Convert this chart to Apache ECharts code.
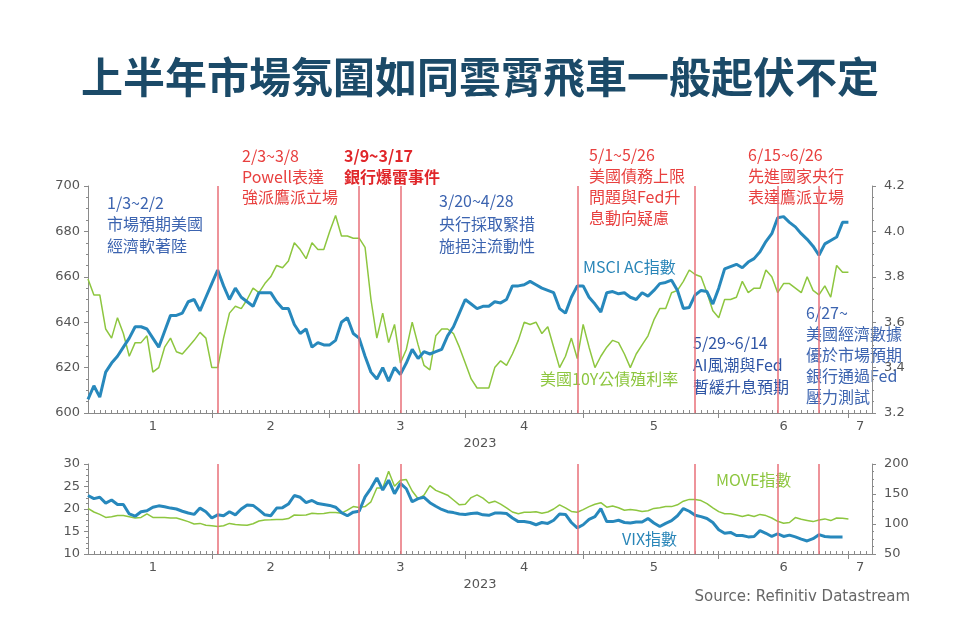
<!DOCTYPE html>
<html><head><meta charset="utf-8">
<script src="https://cdn.jsdelivr.net/npm/echarts@6/dist/echarts.min.js"></script>
<style>html,body{margin:0;padding:0;background:#fff}#c{width:960px;height:640px}</style>
</head><body><div id="c"></div>
<script>
// ---------------- data ----------------
const chartTitle = '上半年市場氛圍如同雲霄飛車一般起伏不定';
const monthLabels = ['1','2','3','4','5','6','7'];
const yearLabel = '2023';
const eventDates = ['2023-02-02','2023-03-08','2023-03-17','2023-04-28','2023-05-26','2023-06-15','2023-06-26'];

// business days 2023-01-03 .. 2023-07-03
const msci = [
  // Jan
  606,612,607,618,622,625,629,633,638,638,637,633,629,636,643,643,644,649,650,645,651,
  // Feb
  657,663,656,650,655,651,649,647,653,653,653,649,646,646,639,635,637,629,631,630,
  // Mar
  630,632,640,642,635,633,625,618,615,620,614,620,617,622,628,624,627,626,627,628,634,638,644,
  // Apr
  650,648,646,647,647,649,648.5,650,656,656,656.5,658,656.5,655,654,653,646,644,651,656,
  // May
  656,651,648,644.5,653,653.5,652.5,653,651,650,653,651.5,654,657,657.5,658.5,654,646,646.5,652,654,653.5,648,
  // Jun
  655,663.5,664.5,665.5,664,666.5,668,671,675.5,679,686,686.5,684,682,679,676.5,673.5,669.5,674.5,676,677.5,684,
  // Jul
  684
];
const yield10y = [
  3.79,3.72,3.72,3.57,3.53,3.62,3.55,3.45,3.51,3.51,3.54,3.38,3.40,3.49,3.53,3.47,3.46,3.49,3.52,3.555,3.53,
  3.40,3.40,3.53,3.64,3.67,3.66,3.70,3.75,3.73,3.77,3.80,3.85,3.84,3.87,3.95,3.92,3.88,3.95,3.92,3.92,
  4.00,4.07,3.98,3.98,3.97,3.97,3.93,3.70,3.53,3.64,3.51,3.59,3.42,3.48,3.60,3.50,3.41,3.39,3.54,3.57,3.57,3.55,3.49,
  3.42,3.35,3.31,3.31,3.31,3.40,3.43,3.41,3.46,3.52,3.60,3.59,3.60,3.55,3.58,3.49,3.40,3.45,3.53,3.44,
  3.59,3.49,3.40,3.45,3.49,3.52,3.51,3.46,3.40,3.46,3.50,3.54,3.61,3.66,3.66,3.73,3.74,3.78,3.83,3.81,3.80,3.73,3.65,
  3.62,3.70,3.70,3.71,3.78,3.73,3.75,3.75,3.83,3.80,3.73,3.77,3.77,3.75,3.73,3.80,3.74,3.72,3.76,3.71,3.85,3.82,
  3.82
];
const vix = [
  23.0,22.3,22.6,21.3,22.0,21.0,21.0,18.9,18.4,19.4,19.6,20.4,20.7,20.5,20.2,20.0,19.5,19.1,18.8,20.2,19.4,
  18.0,18.7,18.5,19.4,18.7,20.0,20.9,20.8,19.8,18.7,18.5,20.2,20.3,21.1,23.0,22.6,21.4,21.9,21.2,21.0,
  20.8,20.4,19.2,18.5,19.3,19.5,22.7,24.6,26.9,24.2,26.4,23.4,25.7,24.5,21.6,22.3,22.6,21.4,20.6,19.9,19.4,19.2,18.9,
  18.8,19.0,19.1,18.7,18.6,19.1,19.1,19.0,18.0,17.2,17.2,17.0,16.5,17.0,16.8,17.5,18.9,18.8,17.0,15.8,
  16.5,17.7,18.3,20.1,17.2,17.2,17.5,17.0,16.9,17.1,17.1,17.9,16.9,16.1,16.8,17.4,18.5,20.1,19.5,18.6,18.3,17.9,17.0,
  15.4,14.6,14.8,14.1,14.1,13.8,13.9,15.2,14.6,13.9,14.5,13.9,14.2,13.8,13.3,12.9,13.4,14.3,13.9,13.8,13.8,13.8
];
const move = [
  126,120,116,111,112,114,114,112,110,111,117,111,111,111,110,110,107,104,100,101,98,
  97,95.7,97,101,99,98.5,98,100.5,105,106.8,107,107.5,107.5,109,115,114.5,115,118,117,117.5,
  119,119,118,123,129,127.4,129,137,160,160,188,163,173,174,155,142,148,164,156,152,148,140,132,
  133,144,148.6,143,135,138,133,127,120,117,119.5,119.7,120.5,118,120,125,132,127,121,119.5,
  124,129,133,135.5,128,130,127,123,124,123,121,122,126,127,129,129,132,138,141,141,139,134,127,
  120.7,117,117,115,112.5,115,112.5,116,114,110,104.5,101.3,102.5,110.7,108,106,104,106.8,108.5,105.7,110,109.5,
  108.5
];

// ---------------- axis helpers ----------------
const dates = [];
(function(){
  const end = Date.UTC(2023,6,7);
  for (let t = Date.UTC(2023,0,3); t <= end; t += 86400000) {
    const d = new Date(t), w = d.getUTCDay();
    if (w !== 0 && w !== 6) dates.push(d.toISOString().slice(0,10));
  }
})();
const monthFirst = {};
dates.forEach((s,i)=>{ const m = +s.slice(5,7); if (!(m in monthFirst)) monthFirst[m] = i; });
const labelAt = {};
for (let m = 1; m <= 7; m++) {
  const a = monthFirst[m];
  const b = (m < 7) ? monthFirst[m+1] : dates.length - 1;
  labelAt[Math.round((a + b) / 2)] = monthLabels[m-1];
}
const monthStart = new Set(Object.values(monthFirst).filter(i => i > 0));

const AX = '#8a8a8a', LBL = '#555';
const numFont = 'DejaVu Sans';
const cjk = '"Noto Sans CJK TC","Noto Sans CJK SC",sans-serif';

function mainX(g){
  return {type:'category', gridIndex:g, data:dates, boundaryGap:false,
    axisLine:{show:true, lineStyle:{color:AX, width:1}},
    axisTick:{show:true, inside:true, length:3, interval:0, lineStyle:{color:AX}},
    axisLabel:{show:false}, splitLine:{show:false}};
}
function monthX(g){
  return {type:'category', gridIndex:g, data:dates, boundaryGap:false, position:'bottom',
    axisLine:{show:false},
    axisTick:{show:true, length:5, interval:(i)=>monthStart.has(i), lineStyle:{color:AX}},
    axisLabel:{show:true, interval:(i)=>(i in labelAt), formatter:(v,i)=>labelAt[i] || '',
      color:LBL, fontSize:13, margin:7, fontFamily:numFont},
    name:yearLabel, nameLocation:'middle', nameGap:24,
    nameTextStyle:{color:LBL, fontSize:13, fontFamily:numFont},
    splitLine:{show:false}};
}
function yAx(g, pos, min, max, interval, fmt){
  return {type:'value', gridIndex:g, position:pos, min, max, interval,
    axisLine:{show:true, lineStyle:{color:AX}},
    axisTick:{show:true, length:4, lineStyle:{color:AX}},
    minorTick:{show:true, splitNumber:4, length:2, lineStyle:{color:AX}},
    splitLine:{show:false},
    axisLabel:{color:LBL, fontSize:13, fontFamily:numFont, margin:pos==='left'?8:12,
      formatter: fmt || (v=>String(v))}};
}

const eventLine = {
  silent:true, symbol:['none','none'], animation:false,
  label:{show:false},
  lineStyle:{color:'#e86f78', width:1.5, type:'solid'},
  data: eventDates.map(d=>({xAxis:d}))
};

function txt(text, x, y, color, size, lh, weight){
  return {type:'text', left:x, top:y, silent:true,
    style:{text, fill:color, font:(weight||'normal')+' '+size+'px '+cjk, lineHeight:lh||size+5}};
}

const BLUE_T = '#3c64b0', RED_T = '#e8403f', LINE_BLUE = '#2788bc', LINE_GREEN = '#8dc63f';

const option = {
  backgroundColor:'#ffffff',
  animation:false,
  grid:[
    {left:88, width:784, top:186, height:227},
    {left:88, width:784, top:464, height:90}
  ],
  xAxis:[mainX(0), monthX(0), mainX(1), monthX(1)],
  yAxis:[
    yAx(0,'left',600,700,20),
    yAx(0,'right',3.2,4.2,0.2, v=>v.toFixed(1)),
    yAx(1,'left',10,30,5),
    yAx(1,'right',50,200,50)
  ],
  series:[
    {name:'美國10Y公債殖利率', type:'line', xAxisIndex:0, yAxisIndex:1, data:yield10y, showSymbol:false,
      lineStyle:{color:LINE_GREEN, width:1.5}, itemStyle:{color:LINE_GREEN}, z:2, markLine:eventLine},
    {name:'MSCI AC指數', type:'line', xAxisIndex:0, yAxisIndex:0, data:msci, showSymbol:false,
      lineStyle:{color:LINE_BLUE, width:3}, itemStyle:{color:LINE_BLUE}, z:3},
    {name:'MOVE指數', type:'line', xAxisIndex:2, yAxisIndex:3, data:move, showSymbol:false,
      lineStyle:{color:LINE_GREEN, width:1.5}, itemStyle:{color:LINE_GREEN}, z:2, markLine:eventLine},
    {name:'VIX指數', type:'line', xAxisIndex:2, yAxisIndex:2, data:vix, showSymbol:false,
      lineStyle:{color:LINE_BLUE, width:3}, itemStyle:{color:LINE_BLUE}, z:3}
  ],
  graphic:[
    {type:'text', left:'center', top:56, silent:true,
      style:{text:chartTitle, fill:'#1b4a68', font:'bold 42px '+cjk}},
    txt('1/3~2/2\n市場預期美國\n經濟軟著陸', 107, 192, BLUE_T, 16, 21.5),
    txt('2/3~3/8\nPowell表達\n強派鷹派立場', 242, 146, RED_T, 16, 20.5),
    txt('3/9~3/17\n銀行爆雷事件', 344, 146, '#e0262a', 16, 20.5, 'bold'),
    txt('3/20~4/28\n央行採取緊措\n施挹注流動性', 439, 190, BLUE_T, 16, 22.5),
    txt('5/1~5/26\n美國債務上限\n問題與Fed升\n息動向疑慮', 589, 144, RED_T, 16, 21),
    txt('6/15~6/26\n先進國家央行\n表達鷹派立場', 748, 144, RED_T, 16, 21),
    txt('MSCI AC指數', 583, 256, '#2a86b8', 16, 21),
    txt('美國10Y公債殖利率', 540, 368, LINE_GREEN, 16, 21),
    txt('5/29~6/14\nAI風潮與Fed\n暫緩升息預期', 693, 332, '#2e55a5', 16, 21.8),
    txt('6/27~\n美國經濟數據\n優於市場預期\n銀行通過Fed\n壓力測試', 806, 302, BLUE_T, 16, 21),
    txt('MOVE指數', 716, 469, LINE_GREEN, 16, 21),
    txt('VIX指數', 622, 528, '#2a86b8', 16, 21),
    {type:'text', right:50, top:590, silent:true,
      style:{text:'Source: Refinitiv Datastream', fill:'#666', font:'15px "DejaVu Sans"'}}
  ]
};
echarts.init(document.getElementById('c'), null, {renderer:'canvas'}).setOption(option);
</script>
</body></html>
